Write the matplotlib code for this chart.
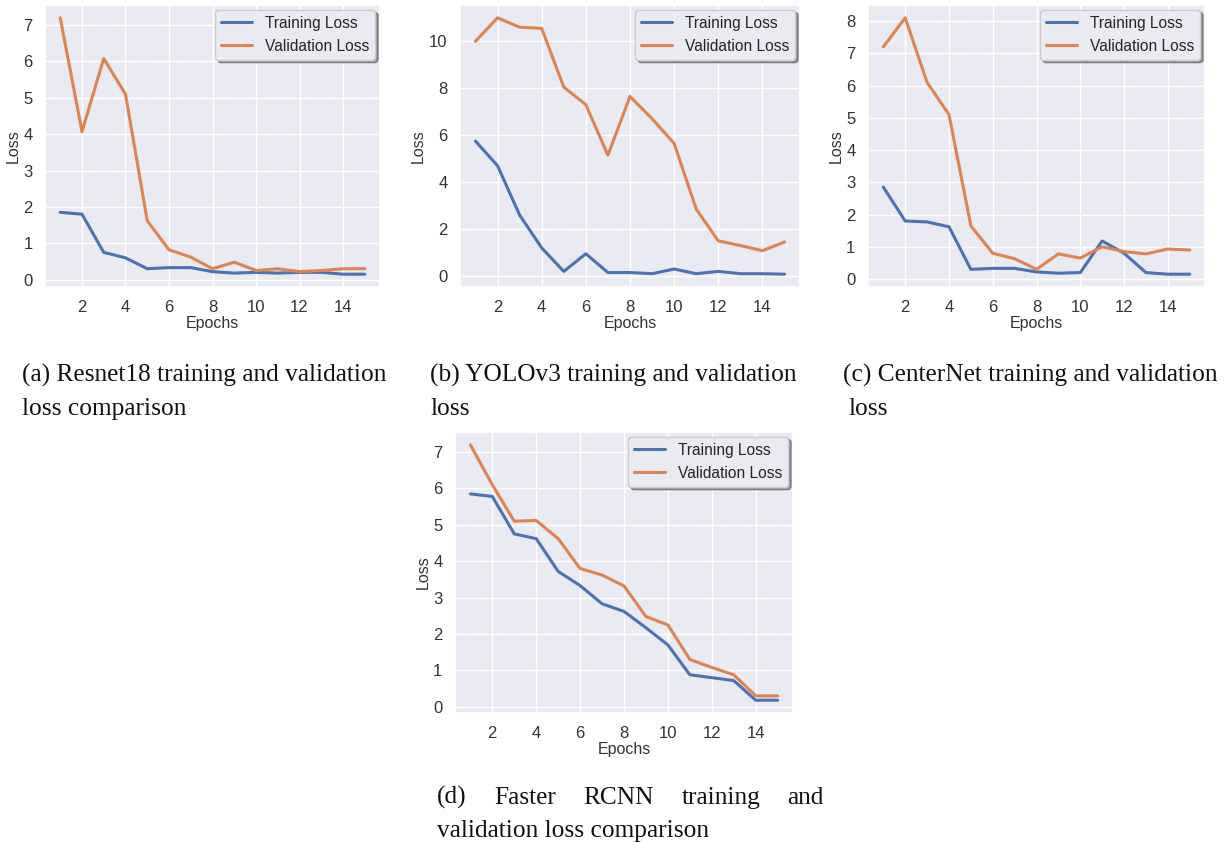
import numpy as np
import matplotlib
matplotlib.use('Agg')
import matplotlib.pyplot as plt
from matplotlib.ticker import MultipleLocator
import seaborn as sns

epochs = list(range(1, 16))

# (a) Resnet18
resnet_train = [1.85, 1.80, 0.75, 0.60, 0.30, 0.33, 0.33, 0.22, 0.18, 0.20, 0.18, 0.20, 0.20, 0.15, 0.15]
resnet_val = [7.20, 4.07, 6.08, 5.10, 1.62, 0.82, 0.62, 0.30, 0.48, 0.25, 0.30, 0.22, 0.25, 0.30, 0.30]

# (b) YOLOv3
yolo_train = [5.75, 4.70, 2.60, 1.20, 0.20, 0.95, 0.15, 0.15, 0.10, 0.30, 0.10, 0.20, 0.10, 0.10, 0.08]
yolo_val = [10.00, 11.00, 10.60, 10.55, 8.05, 7.30, 5.15, 7.65, 6.70, 5.65, 2.85, 1.50, 1.30, 1.08, 1.45]

# (c) CenterNet
center_train = [2.85, 1.80, 1.77, 1.62, 0.30, 0.33, 0.33, 0.22, 0.18, 0.20, 1.18, 0.80, 0.20, 0.15, 0.15]
center_val = [7.20, 8.10, 6.10, 5.10, 1.65, 0.80, 0.63, 0.30, 0.78, 0.65, 1.00, 0.85, 0.78, 0.93, 0.90]

# (d) Faster RCNN
frcnn_train = [5.85, 5.78, 4.75, 4.62, 3.72, 3.33, 2.83, 2.62, 2.17, 1.70, 0.88, 0.80, 0.72, 0.18, 0.18]
frcnn_val = [7.20, 6.10, 5.10, 5.12, 4.62, 3.80, 3.62, 3.32, 2.48, 2.25, 1.30, 1.08, 0.88, 0.30, 0.30]

sns.set_theme(style='darkgrid')
plt.rcParams['font.family'] = ['Liberation Sans', 'DejaVu Sans']

W, H = 1225, 842
fig = plt.figure(figsize=(W / 100, H / 100), dpi=100)
fig.patch.set_facecolor('white')


def box(x0, y0, x1, y1):
    # pixel box (top-left origin) -> figure fraction
    return [x0 / W, 1 - y1 / H, (x1 - x0) / W, (y1 - y0) / H]


panels = [
    (box(45, 5, 380, 287), resnet_train, resnet_val, 1),
    (box(460, 5, 800, 287), yolo_train, yolo_val, 2),
    (box(868, 5, 1205, 287), center_train, center_val, 1),
    (box(455, 432, 793, 713), frcnn_train, frcnn_val, 1),
]

for rect, tr, va, ystep in panels:
    ax = fig.add_axes(rect)
    ax.plot(epochs, tr, color='#4c72b0', lw=2.2, label='Training Loss')
    ax.plot(epochs, va, color='#dd8452', lw=2.2, label='Validation Loss')
    ax.xaxis.set_major_locator(MultipleLocator(2))
    ax.yaxis.set_major_locator(MultipleLocator(ystep))
    ax.set_xlabel('Epochs', fontsize=11.5, labelpad=1, color='#333333')
    ax.set_ylabel('Loss', fontsize=11.5, labelpad=2, color='#333333')
    ax.tick_params(labelsize=12, colors='#333333', pad=3)
    leg = ax.legend(loc='upper right', fontsize=11.2, frameon=True, shadow=True,
                    borderaxespad=0.3)
    leg.get_frame().set_facecolor('#eaeaf2')
    leg.get_frame().set_edgecolor('#cccccc')

serif = ['Liberation Serif', 'DejaVu Serif']
cap_fs = 18.3
cap_kw = dict(family=serif, fontsize=cap_fs, va='baseline', color='#111111')
l1, l2 = 382, 415
fig.text(22 / W, 1 - l1 / H, '(a) Resnet18 training and validation', **cap_kw)
fig.text(22 / W, 1 - l2 / H, 'loss comparison', **cap_kw)
fig.text(430 / W, 1 - l1 / H, '(b) YOLOv3 training and validation', **cap_kw)
fig.text(430 / W, 1 - l2 / H, 'loss', **cap_kw)
fig.text(843 / W, 1 - l1 / H, '(c) CenterNet training and validation', **cap_kw)
fig.text(848 / W, 1 - l2 / H, 'loss', **cap_kw)

# justified first line of caption (d)
words = ['(d)', 'Faster', 'RCNN', 'training', 'and']
fig.canvas.draw()
renderer = fig.canvas.get_renderer()
objs = [fig.text(0, 1 - 804 / H, w, **cap_kw) for w in words]
widths = [o.get_window_extent(renderer).width for o in objs]
left, right = 437, 824
gap = (right - left - sum(widths)) / (len(words) - 1)
x = left
for o, w in zip(objs, widths):
    o.set_x(x / W)
    x += w + gap
fig.text(437 / W, 1 - 837 / H, 'validation loss comparison', **cap_kw)

fig.savefig('out.png', dpi=100)
